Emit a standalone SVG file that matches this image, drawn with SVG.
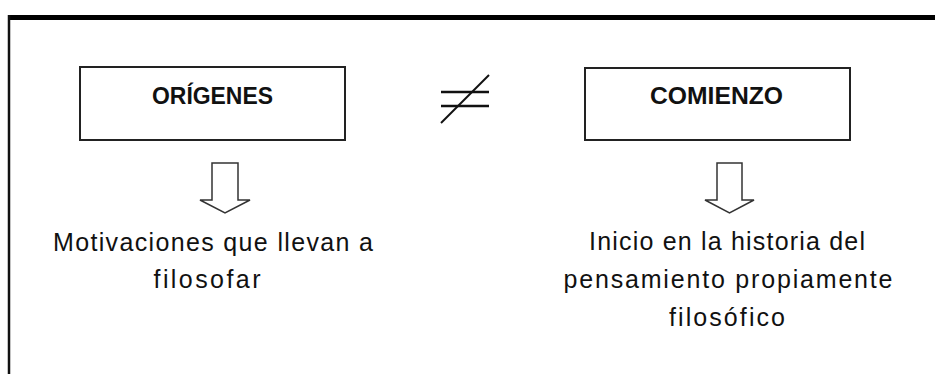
<svg xmlns="http://www.w3.org/2000/svg" width="935" height="374" viewBox="0 0 935 374">
<style>
.box{fill:#fff;stroke:#222;stroke-width:2}
.arrow{fill:#fff;stroke:#333;stroke-width:1.5;stroke-linejoin:miter}
.lbl{font-family:"Liberation Sans",Arial,sans-serif;font-weight:bold;font-size:23.5px;fill:#111;text-anchor:middle}
.txt{font-family:"Liberation Sans",Arial,sans-serif;font-size:25px;fill:#111;text-anchor:middle}
.neq{stroke:#111;stroke-width:2.5;fill:none}
</style>
<rect width="935" height="374" fill="#fff"/>
<g id="frame">
<line x1="9" y1="17.5" x2="935" y2="17.5" stroke="#000" stroke-width="5"/>
<line x1="9" y1="15" x2="9" y2="374" stroke="#111" stroke-width="2.5"/>
</g>
<g id="origenes">
<rect class="box" x="80" y="67" width="265" height="73"/>
<text class="lbl" x="212.5" y="104" textLength="121" lengthAdjust="spacingAndGlyphs">ORÍGENES</text>
</g>
<g id="neq">
<path class="neq" d="M441 92H489M441 106H489"/>
<path d="M441 123L489 75" stroke="#111" stroke-width="2" fill="none"/>
</g>
<g id="comienzo">
<rect class="box" x="585" y="68" width="265" height="72"/>
<text class="lbl" x="716.5" y="104" textLength="133" lengthAdjust="spacingAndGlyphs">COMIENZO</text>
</g>
<g id="connectors">
<path class="arrow" d="M212 163H238V200H250L225 213L200 200H212Z"/>
<path class="arrow" d="M717 163H742V200H754L729.5 213L705 200H717Z"/>
</g>
<g id="motivaciones">
<text class="txt" x="213" y="251" textLength="320" lengthAdjust="spacing">Motivaciones que llevan a</text>
<text class="txt" x="207" y="288" textLength="107" lengthAdjust="spacing">filosofar</text>
</g>
<g id="inicio">
<text class="txt" x="727" y="250" textLength="276" lengthAdjust="spacing">Inicio en la historia del</text>
<text class="txt" x="728" y="288" textLength="329" lengthAdjust="spacing">pensamiento propiamente</text>
<text class="txt" x="727" y="326" textLength="116" lengthAdjust="spacing">filosófico</text>
</g>
</svg>
